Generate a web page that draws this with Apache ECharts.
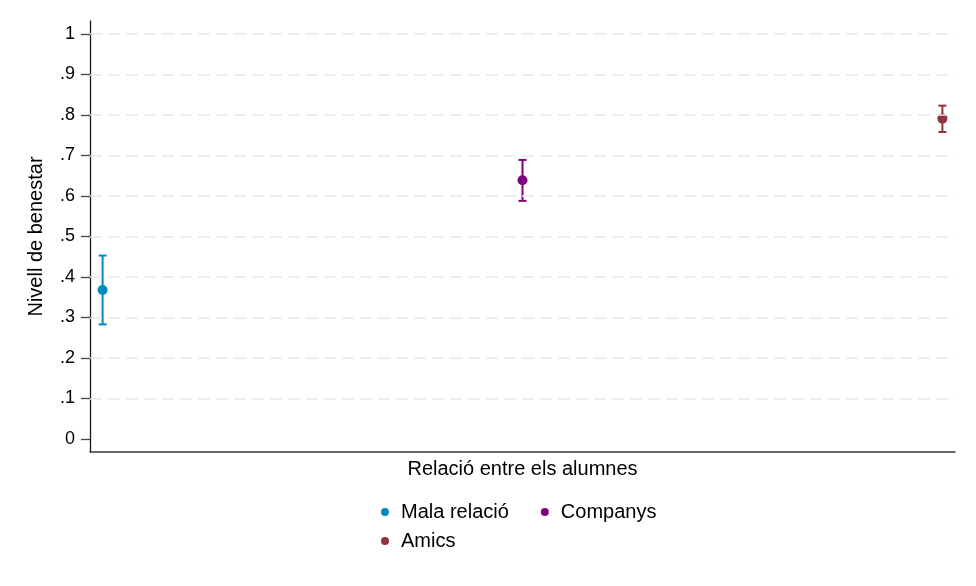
<!DOCTYPE html>
<html>
<head>
<meta charset="utf-8">
<script src="https://cdn.jsdelivr.net/npm/echarts@6/dist/echarts.min.js"></script>
<style>
  html, body { margin: 0; padding: 0; background: #fff; }
  #chart-container { width: 976px; height: 586px; }
</style>
</head>
<body>
<div id="chart-container"></div>
<script>
var dom = document.getElementById('chart-container');
var myChart = echarts.init(dom, null, { renderer: 'canvas' });

// data
var groups = ['Mala relació', 'Companys', 'Amics'];
var xPos = [1, 2, 3];
var means = [0.368, 0.639, 0.791];
var lower = [0.283, 0.588, 0.758];
var upper = [0.453, 0.689, 0.823];
var colors = ['#008bbc', '#800080', '#90353b'];
var yTicks = [0, 0.1, 0.2, 0.3, 0.4, 0.5, 0.6, 0.7, 0.8, 0.9, 1];

var font = 'Liberation Sans, Arial, sans-serif';

function tickLabel(v) {
  if (v === 0) return '0';
  if (v === 1) return '1';
  return String(v).replace(/^0/, '');
}

var series = [];
groups.forEach(function (g, i) {
  series.push({
    type: 'custom',
    name: g,
    data: [[xPos[i], lower[i], upper[i]]],
    renderItem: function (params, api) {
      var lo = api.coord([api.value(0), api.value(1)]);
      var hi = api.coord([api.value(0), api.value(2)]);
      var cap = 4;
      var st = { stroke: colors[i], lineWidth: 2 };
      return {
        type: 'group',
        children: [
          { type: 'line', shape: { x1: lo[0], y1: lo[1], x2: hi[0], y2: hi[1] }, style: st },
          { type: 'line', shape: { x1: lo[0] - cap, y1: lo[1], x2: lo[0] + cap, y2: lo[1] }, style: st },
          { type: 'line', shape: { x1: hi[0] - cap, y1: hi[1], x2: hi[0] + cap, y2: hi[1] }, style: st }
        ]
      };
    },
    z: 3
  });
  series.push({
    type: 'scatter',
    name: g,
    data: [[xPos[i], means[i]]],
    symbol: 'circle',
    symbolSize: 10,
    itemStyle: { color: colors[i], opacity: 1 },
    z: 4
  });
});

// dashed horizontal grid lines (all ticks except 0)
series.push({
  type: 'scatter',
  data: [],
  silent: true,
  markLine: {
    silent: true,
    symbol: 'none',
    label: { show: false },
    lineStyle: { color: '#e8e8e8', type: [12, 6], width: 1.5 },
    data: yTicks.slice(1).map(function (v) { return { yAxis: v }; }),
    animation: false
  },
  z: 1
});

var option = {
  animation: false,
  color: colors,
  grid: { left: 90, right: 21, top: 21, bottom: 134 },
  xAxis: {
    type: 'value',
    min: 0.97,
    max: 3.03,
    name: 'Relació entre els alumnes',
    nameLocation: 'middle',
    nameGap: 7,
    nameTextStyle: { fontFamily: font, fontSize: 20, color: '#000', verticalAlign: 'top' },
    axisLine: { show: true, onZero: false, lineStyle: { color: '#3a3a3a', width: 1.5 } },
    axisTick: { show: false },
    axisLabel: { show: false },
    splitLine: { show: false }
  },
  yAxis: {
    type: 'value',
    min: -0.032,
    max: 1.032,
    name: 'Nivell de benestar',
    nameLocation: 'middle',
    nameGap: 44,
    nameRotate: 90,
    nameTextStyle: { fontFamily: font, fontSize: 20, color: '#000' },
    axisLine: { show: true, onZero: false, lineStyle: { color: '#1a1a1a', width: 1.3 } },
    axisTick: { show: true, inside: false, length: 9, customValues: yTicks, lineStyle: { color: '#444', width: 1.3 } },
    axisLabel: {
      customValues: yTicks,
      margin: 15,
      fontFamily: font,
      fontSize: 18,
      color: '#000',
      formatter: tickLabel
    },
    splitLine: { show: false }
  },
  legend: [
    {
      left: 376,
      top: 497,
      itemWidth: 22,
      itemHeight: 8,
      itemGap: 32,
      icon: 'circle',
      data: [groups[0], groups[1]],
      textStyle: { fontFamily: font, fontSize: 20, color: '#000' }
    },
    {
      left: 376,
      top: 526,
      itemWidth: 22,
      itemHeight: 8,
      icon: 'circle',
      data: [groups[2]],
      textStyle: { fontFamily: font, fontSize: 20, color: '#000' }
    }
  ],
  series: series
};

myChart.setOption(option);
window.addEventListener('resize', myChart.resize);
</script>
</body>
</html>
